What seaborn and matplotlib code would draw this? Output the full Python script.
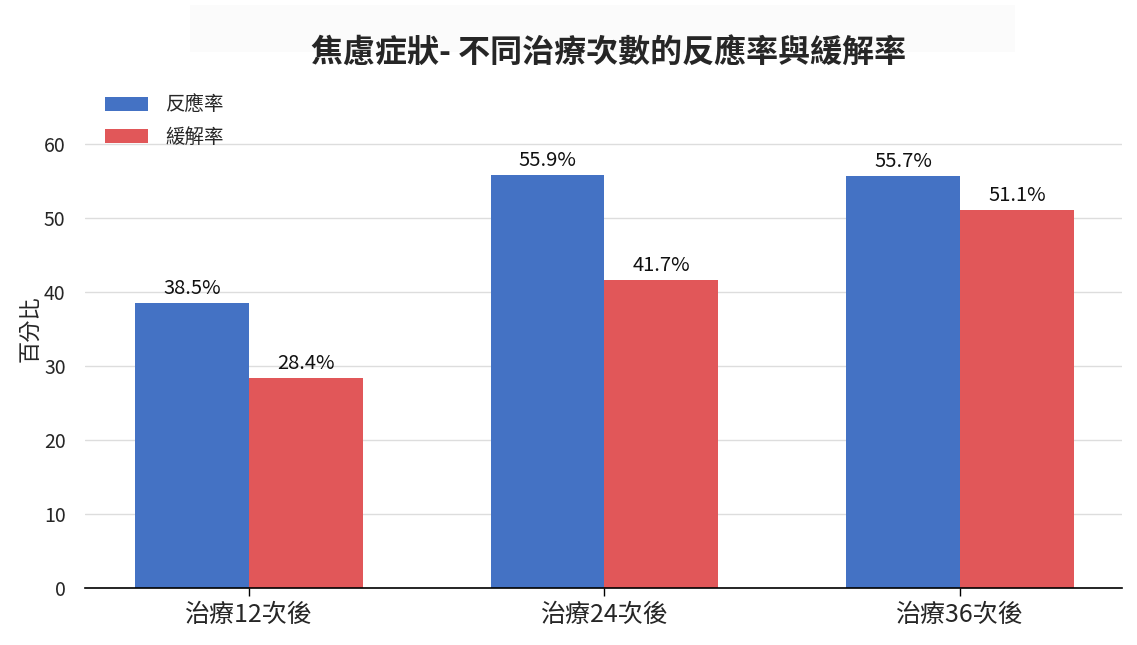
import pandas as pd
import numpy as np
import matplotlib
matplotlib.use("Agg")
import matplotlib.pyplot as plt
import seaborn as sns
from matplotlib.patches import Rectangle

# ==============================
# Data
# ==============================
groups = ["治療12次後", "治療24次後", "治療36次後"]
series = ["反應率", "緩解率"]
response = [38.5, 55.9, 55.7]
remission = [28.4, 41.7, 51.1]
colors = ["#4472C4", "#E15759"]

data = pd.DataFrame({
    "group": groups * 2,
    "series": [series[0]] * 3 + [series[1]] * 3,
    "value": response + remission,
})

# ==============================
# Style
# ==============================
sns.set_theme(style="white")
plt.rcParams["font.family"] = ["Noto Sans CJK TC", "DejaVu Sans"]

fig = plt.figure(figsize=(11.37, 6.45), dpi=100)
ax = fig.add_axes([0.0748, 0.0884, 0.912, 0.745])

sns.barplot(data=data, x="group", y="value", hue="series", palette=colors,
            width=0.64, saturation=1, linewidth=0, ax=ax, legend=True)

# value labels
for cont in ax.containers:
    ax.bar_label(cont, labels=[f"{v:.1f}%" for v in cont.datavalues],
                 padding=3, fontsize=14.5, color="#111111")

ax.set_ylim(0, 65)
ax.set_xlim(-0.46, 2.455)
ax.set_yticks(range(0, 61, 10))
ax.yaxis.grid(True, color="#dddddd", linewidth=1)
ax.set_axisbelow(True)
sns.despine(ax=ax, left=True)
ax.spines["bottom"].set_color("black")
ax.spines["bottom"].set_linewidth(1.2)

ax.tick_params(axis="y", length=6, color="#cccccc", labelsize=14, pad=8)
ax.tick_params(axis="x", length=6, color="black", width=1, labelsize=18, pad=4,
               bottom=True)
ax.set_xlabel("")
ax.set_ylabel("百分比", fontsize=16)
ax.yaxis.set_label_coords(-0.042, 0.54)

# legend
handles, labels = ax.get_legend_handles_labels()
ax.legend(handles, labels, loc="upper left", bbox_to_anchor=(0.077, 0.88),
          bbox_transform=fig.transFigure, frameon=False, fontsize=14,
          handlelength=2.2, handleheight=0.75, handletextpad=0.9,
          labelspacing=0.55)

# title with faint background
fig.patches.append(Rectangle((0.167, 0.919), 0.726, 0.073, transform=fig.transFigure,
                             facecolor="#fbfbfb", edgecolor="none", zorder=0))
fig.text(0.535, 0.917, "焦慮症狀- 不同治療次數的反應率與緩解率", ha="center", va="center",
         fontsize=23, fontweight="bold")

fig.savefig("out.png", dpi=100)
